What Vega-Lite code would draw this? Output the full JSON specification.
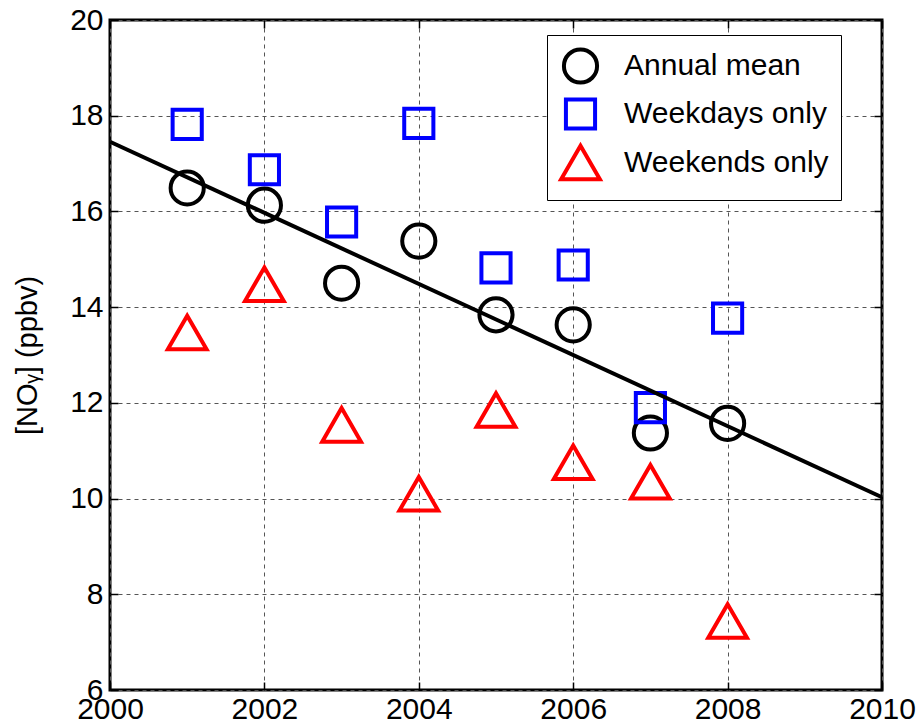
{
  "$schema": "https://vega.github.io/schema/vega-lite/v6.json",
  "autosize": {"type": "none"},
  "padding": {"left": 110, "top": 20, "right": 35, "bottom": 35},
  "width": 772,
  "height": 670,
  "background": "white",
  "config": {
    "view": {"stroke": "black", "strokeWidth": 3},
    "font": "Liberation Sans",
    "axis": {
      "domain": false,
      "grid": true,
      "gridColor": "#555555",
      "gridDash": [4, 4],
      "gridWidth": 1,
      "gridOpacity": 1,
      "tickColor": "black",
      "tickWidth": 1.5,
      "tickSize": -8,
      "labelFont": "Liberation Sans",
      "labelFontSize": 30,
      "labelColor": "black",
      "titleFont": "Liberation Sans",
      "titleFontSize": 29,
      "titleFontWeight": "normal",
      "titleColor": "black"
    },
    "legend": {
      "symbolStrokeWidth": 4,
      "labelFontSize": 30,
      "labelFont": "Liberation Sans",
      "labelColor": "black",
      "labelLimit": 500
    }
  },
  "data": {
    "values": [
      {"year": 2001, "series": "Annual mean", "value": 16.49},
      {"year": 2002, "series": "Annual mean", "value": 16.13},
      {"year": 2003, "series": "Annual mean", "value": 14.50},
      {"year": 2004, "series": "Annual mean", "value": 15.38},
      {"year": 2005, "series": "Annual mean", "value": 13.84},
      {"year": 2006, "series": "Annual mean", "value": 13.63},
      {"year": 2007, "series": "Annual mean", "value": 11.37},
      {"year": 2008, "series": "Annual mean", "value": 11.57},
      {"year": 2001, "series": "Weekdays only", "value": 17.82},
      {"year": 2002, "series": "Weekdays only", "value": 16.87},
      {"year": 2003, "series": "Weekdays only", "value": 15.78},
      {"year": 2004, "series": "Weekdays only", "value": 17.84},
      {"year": 2005, "series": "Weekdays only", "value": 14.82},
      {"year": 2006, "series": "Weekdays only", "value": 14.88},
      {"year": 2007, "series": "Weekdays only", "value": 11.90},
      {"year": 2008, "series": "Weekdays only", "value": 13.77},
      {"year": 2001, "series": "Weekends only", "value": 13.47},
      {"year": 2002, "series": "Weekends only", "value": 14.48},
      {"year": 2003, "series": "Weekends only", "value": 11.54},
      {"year": 2004, "series": "Weekends only", "value": 10.10},
      {"year": 2005, "series": "Weekends only", "value": 11.85},
      {"year": 2006, "series": "Weekends only", "value": 10.76},
      {"year": 2007, "series": "Weekends only", "value": 10.35},
      {"year": 2008, "series": "Weekends only", "value": 7.44}
    ]
  },
  "layer": [
    {
      "mark": {"type": "point", "filled": false, "strokeWidth": 4, "opacity": 1},
      "encoding": {
        "x": {
          "field": "year", "type": "quantitative",
          "scale": {"domain": [2000, 2010], "nice": false, "zero": false},
          "axis": {"orient": "bottom", "title": null, "values": [2000, 2002, 2004, 2006, 2008, 2010], "format": "d", "labelPadding": 12, "labelFlush": false, "labelOverlap": false}
        },
        "y": {
          "field": "value", "type": "quantitative",
          "scale": {"domain": [6, 20], "nice": false, "zero": false},
          "axis": {"orient": "left", "title": "[NOᵧ] (ppbv)", "values": [6, 8, 10, 12, 14, 16, 18, 20], "labelPadding": 15, "titlePadding": 27, "labelFlush": false, "labelOverlap": false}
        },
        "color": {
          "field": "series", "type": "nominal",
          "scale": {"domain": ["Annual mean", "Weekdays only", "Weekends only"], "range": ["#000000", "#0000ff", "#ff0000"]},
          "legend": {"title": null, "orient": "none", "legendX": 437, "legendY": 15, "strokeColor": "black", "fillColor": "white", "padding": 12, "rowPadding": 0, "labelOffset": 22, "symbolStrokeWidth": 4}
        },
        "shape": {
          "field": "series", "type": "nominal",
          "scale": {"domain": ["Annual mean", "Weekdays only", "Weekends only"], "range": ["circle", "square", "triangle-up"]},
          "legend": {"title": null, "orient": "none", "legendX": 437, "legendY": 15, "strokeColor": "black", "fillColor": "white", "padding": 12, "rowPadding": 0, "labelOffset": 22, "symbolStrokeWidth": 4}
        },
        "size": {
          "field": "series", "type": "nominal",
          "scale": {"type": "ordinal", "domain": ["Annual mean", "Weekdays only", "Weekends only"], "range": [1100, 850, 1500]},
          "legend": {"title": null, "orient": "none", "legendX": 437, "legendY": 15, "strokeColor": "black", "fillColor": "white", "padding": 12, "rowPadding": 0, "labelOffset": 22, "symbolStrokeWidth": 4}
        }
      }
    },
    {
      "transform": [
        {"filter": "datum.series === 'Annual mean'"},
        {"regression": "value", "on": "year", "extent": [2000, 2010]}
      ],
      "mark": {"type": "line", "color": "black", "strokeWidth": 4},
      "encoding": {
        "x": {"field": "year", "type": "quantitative", "axis": {"orient": "top", "title": null, "labels": false, "grid": false, "values": [2000, 2002, 2004, 2006, 2008, 2010]}},
        "y": {"field": "value", "type": "quantitative", "axis": {"orient": "right", "title": null, "labels": false, "grid": false, "values": [6, 8, 10, 12, 14, 16, 18, 20]}}
      }
    }
  ],
  "resolve": {"axis": {"x": "independent", "y": "independent"}}
}
